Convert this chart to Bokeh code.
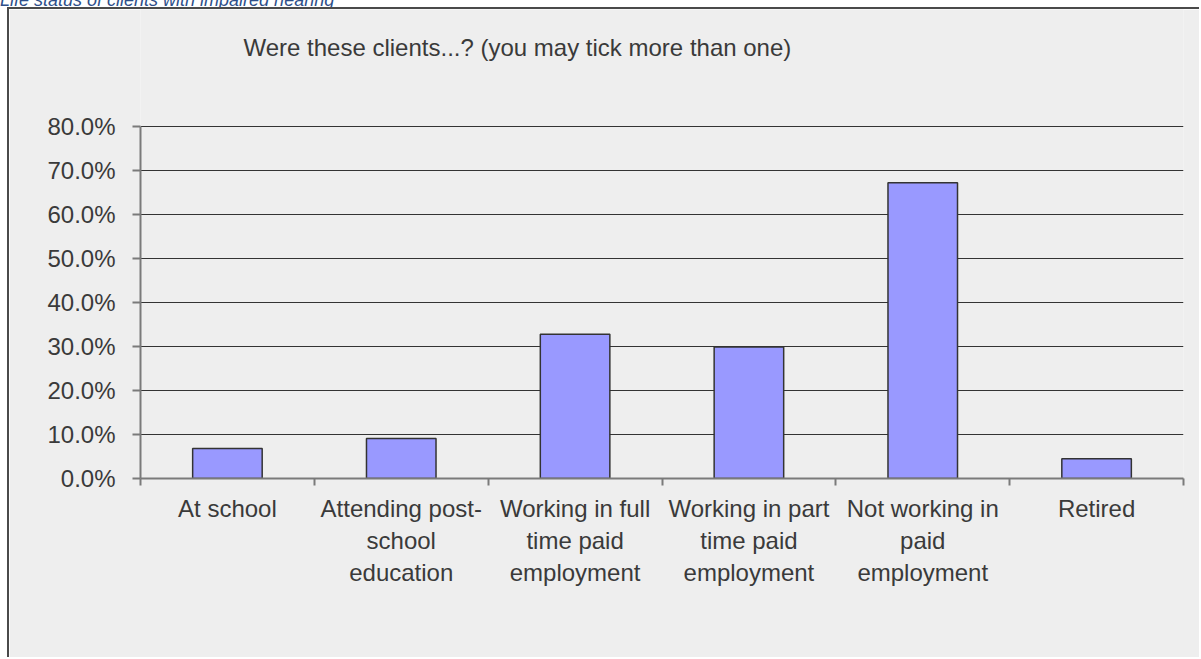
from bokeh.plotting import figure
from bokeh.models import (FixedTicker, PrintfTickFormatter, Range1d, Div,
                          ColumnDataSource, Label)
from bokeh.layouts import column
from bokeh.embed import file_html
from bokeh.resources import INLINE

categories = ["At school", "Attending post-\nschool\neducation",
              "Working in full\ntime paid\nemployment",
              "Working in part\ntime paid\nemployment",
              "Not working in\npaid\nemployment", "Retired"]
values = [6.8, 9.1, 32.8, 29.9, 67.2, 4.5]
y_ticks = [0, 10, 20, 30, 40, 50, 60, 70, 80]
title_text = "Were these clients...? (you may tick more than one)"
caption_text = "Life status of clients with impaired hearing"

n = len(categories)
xs = [i + 0.5 for i in range(n)]
src = ColumnDataSource(dict(x=xs, top=values))

FONT = "Liberation Sans"
TXT = "#3a3a3a"
AX = "#7a7a7a"
BG = "#eeeeee"
EDGE = "#4a4a4a"

# pixel layout (page coordinates)
PX_LEFT, PX_RIGHT, PX_TOP_AREA, PX_ZERO, PX_80 = 140, 1183, 9, 478, 126
px_per_y = (PX_ZERO - PX_80) / 80.0
px_per_x = (PX_RIGHT - PX_LEFT) / n
y_top = (PX_ZERO - PX_TOP_AREA) / px_per_y

cap = Div(text=("<div style=\"position:absolute; left:0px; top:-9px; "
                "white-space:nowrap; font-family:'Liberation Sans'; "
                "font-style:italic; font-size:18px; line-height:18px; "
                "color:#2e4f8a;\">" + caption_text + "</div>"),
          width=1201, height=7, margin=0,
          styles={"overflow": "hidden", "position": "relative"})

p = figure(width=1192, height=650, output_backend="svg", toolbar_location=None,
           x_range=Range1d(0, n), y_range=Range1d(0, y_top),
           min_border_left=PX_LEFT - 9, min_border_right=1201 - PX_RIGHT,
           min_border_top=0, min_border_bottom=659 - PX_ZERO,
           border_fill_color=BG, background_fill_color=BG,
           outline_line_color=None, margin=(0, 0, 0, 7), title=None,
           styles={"border-left": "2px solid " + EDGE,
                   "border-top": "2px solid " + EDGE})

p.vbar(x="x", top="top", width=0.4, source=src, fill_color="#9999ff",
       line_color="#333333", line_width=1.5)

# y axis
p.yaxis.ticker = FixedTicker(ticks=y_ticks)
p.yaxis.bounds = (0, 80)
p.yaxis.formatter = PrintfTickFormatter(format="%.1f%%")
p.yaxis.major_label_text_font = FONT
p.yaxis.major_label_text_font_size = "24px"
p.yaxis.major_label_text_color = TXT
p.yaxis.axis_line_color = AX
p.yaxis.axis_line_width = 2
p.yaxis.major_tick_line_color = AX
p.yaxis.major_tick_line_width = 2
p.yaxis.major_tick_out = 8
p.yaxis.major_tick_in = 0
p.yaxis.minor_tick_line_color = None
p.yaxis.major_label_standoff = 17

# x axis
p.xaxis.ticker = FixedTicker(ticks=xs, minor_ticks=list(range(n + 1)))
p.xaxis.major_label_overrides = {x: c for x, c in zip(xs, categories)}
p.xaxis.major_label_text_font = FONT
p.xaxis.major_label_text_font_size = "24px"
p.xaxis.major_label_text_color = TXT
p.xaxis.major_label_text_align = "center"
p.xaxis.axis_line_color = AX
p.xaxis.axis_line_width = 2
p.xaxis.major_tick_line_color = None
p.xaxis.major_tick_out = 7
p.xaxis.major_tick_in = 0
p.xaxis.minor_tick_line_color = AX
p.xaxis.minor_tick_line_width = 2
p.xaxis.minor_tick_out = 7
p.xaxis.minor_tick_in = 0
p.xaxis.major_label_standoff = 9

p.xgrid.grid_line_color = None
p.ygrid.grid_line_color = "#333333"
p.ygrid.grid_line_width = 1

# chart title
p.add_layout(Label(x=(243 - PX_LEFT) / px_per_x, y=(PX_ZERO - 47) / px_per_y,
                   text=title_text, text_align="left",
                   text_baseline="alphabetic", text_font=FONT,
                   text_font_size="24px", text_color=TXT))

layout = column(cap, p, spacing=0, margin=0)
open("out.html", "w").write(file_html(layout, INLINE))
